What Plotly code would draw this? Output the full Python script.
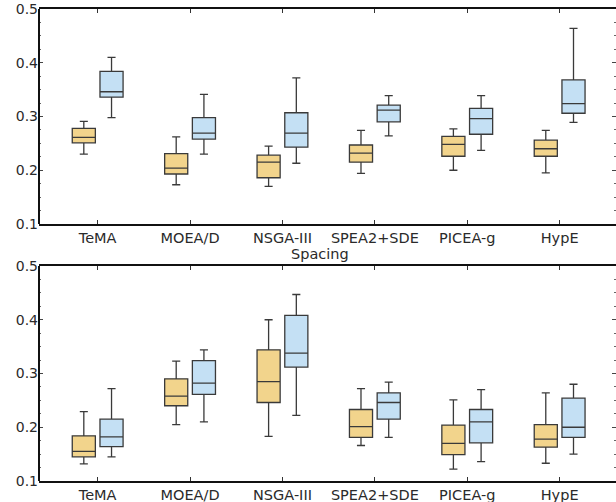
import plotly.graph_objects as go
from plotly.subplots import make_subplots

categories = ["TeMA", "MOEA/D", "NSGA-III", "SPEA2+SDE", "PICEA-g", "HypE"]

# Top panel (Spacing) - yellow series
top_y_low = [0.230, 0.173, 0.170, 0.194, 0.200, 0.195]
top_y_q1 = [0.251, 0.193, 0.186, 0.215, 0.226, 0.226]
top_y_med = [0.261, 0.204, 0.215, 0.232, 0.248, 0.240]
top_y_q3 = [0.278, 0.231, 0.228, 0.247, 0.263, 0.256]
top_y_high = [0.291, 0.262, 0.245, 0.274, 0.277, 0.274]
# Top panel - blue series
top_b_low = [0.298, 0.230, 0.213, 0.264, 0.237, 0.289]
top_b_q1 = [0.336, 0.258, 0.243, 0.290, 0.267, 0.306]
top_b_med = [0.346, 0.269, 0.269, 0.312, 0.296, 0.324]
top_b_q3 = [0.384, 0.298, 0.307, 0.321, 0.315, 0.368]
top_b_high = [0.410, 0.341, 0.372, 0.339, 0.339, 0.464]

# Bottom panel - yellow series
bot_y_low = [0.132, 0.205, 0.183, 0.166, 0.122, 0.133]
bot_y_q1 = [0.145, 0.240, 0.246, 0.181, 0.149, 0.163]
bot_y_med = [0.155, 0.258, 0.285, 0.201, 0.170, 0.178]
bot_y_q3 = [0.184, 0.290, 0.344, 0.233, 0.204, 0.205]
bot_y_high = [0.229, 0.323, 0.400, 0.272, 0.251, 0.264]
# Bottom panel - blue series
bot_b_low = [0.145, 0.210, 0.222, 0.181, 0.136, 0.150]
bot_b_q1 = [0.164, 0.261, 0.312, 0.215, 0.171, 0.181]
bot_b_med = [0.182, 0.282, 0.338, 0.246, 0.210, 0.200]
bot_b_q3 = [0.215, 0.324, 0.408, 0.264, 0.233, 0.254]
bot_b_high = [0.272, 0.344, 0.447, 0.284, 0.270, 0.280]

y_ticks = [0.1, 0.2, 0.3, 0.4, 0.5]
x_title = "Spacing"

YELLOW = "#F2D48C"
BLUE = "#C4E0F4"
LINE = "#3a3a3a"

OFFSET = 0.15
BOX_W = 0.25
positions = list(range(len(categories)))

TOP_DOM = [0.5445, 1.0]
BOT_DOM = [0.0, 0.4555]

fig = make_subplots(rows=2, cols=1, vertical_spacing=0.09)


def add_box(row, low, q1, med, q3, high, fill, shift):
    fig.add_trace(
        go.Box(
            x=[p + shift for p in positions],
            lowerfence=low,
            q1=q1,
            median=med,
            q3=q3,
            upperfence=high,
            width=BOX_W,
            fillcolor=fill,
            line=dict(color=LINE, width=1.3),
            whiskerwidth=0.35,
            showlegend=False,
            hoverinfo="skip",
        ),
        row=row,
        col=1,
    )


add_box(1, top_y_low, top_y_q1, top_y_med, top_y_q3, top_y_high, YELLOW, -OFFSET)
add_box(1, top_b_low, top_b_q1, top_b_med, top_b_q3, top_b_high, BLUE, OFFSET)
add_box(2, bot_y_low, bot_y_q1, bot_y_med, bot_y_q3, bot_y_high, YELLOW, -OFFSET)
add_box(2, bot_b_low, bot_b_q1, bot_b_med, bot_b_q3, bot_b_high, BLUE, OFFSET)

xfont = dict(family="DejaVu Sans, Arial, sans-serif", size=14.5, color="#2a2a2a")
yfont = dict(family="DejaVu Sans, Arial, sans-serif", size=14, color="#2a2a2a")

xaxis_common = dict(
    range=[-0.635, 5.61],
    tickvals=positions,
    ticktext=categories,
    showline=True,
    linecolor="#111",
    linewidth=2,
    mirror="ticks",
    ticks="inside",
    ticklen=4,
    tickcolor="#333",
    showgrid=False,
    zeroline=False,
    tickfont=xfont,
)
yaxis_common = dict(
    range=[0.1, 0.5],
    tickvals=y_ticks,
    ticktext=[f"{v:.1f}" for v in y_ticks],
    showline=False,
    mirror="ticks",
    ticks="inside",
    ticklen=4,
    tickcolor="#444",
    minor=dict(dtick=0.025, ticks="inside", ticklen=2, tickcolor="#666", showgrid=False),
    showgrid=False,
    zeroline=False,
    tickfont=yfont,
)

spines = [
    dict(type="line", xref="paper", yref="paper", x0=0, x1=0, y0=d[0], y1=d[1],
         line=dict(color="#111", width=2))
    for d in (TOP_DOM, BOT_DOM)
]

fig.update_layout(
    width=616,
    height=502,
    margin=dict(l=39, r=0, t=9, b=21),
    paper_bgcolor="white",
    plot_bgcolor="white",
    boxmode="overlay",
    xaxis=dict(domain=[0, 1], **xaxis_common),
    xaxis2=dict(domain=[0, 1], **xaxis_common),
    yaxis=dict(domain=TOP_DOM, **yaxis_common),
    yaxis2=dict(domain=BOT_DOM, **yaxis_common),
    shapes=spines,
    annotations=[
        dict(
            text=x_title,
            x=0.487,
            y=0.481,
            xref="paper",
            yref="paper",
            showarrow=False,
            xanchor="center",
            yanchor="middle",
            font=dict(family="DejaVu Sans, Arial, sans-serif", size=14.5, color="#2a2a2a"),
        )
    ],
)

fig.write_html(
    "out.html",
    config={"displayModeBar": False},
    post_script="document.body.style.margin='0';document.body.style.overflow='hidden';",
)
